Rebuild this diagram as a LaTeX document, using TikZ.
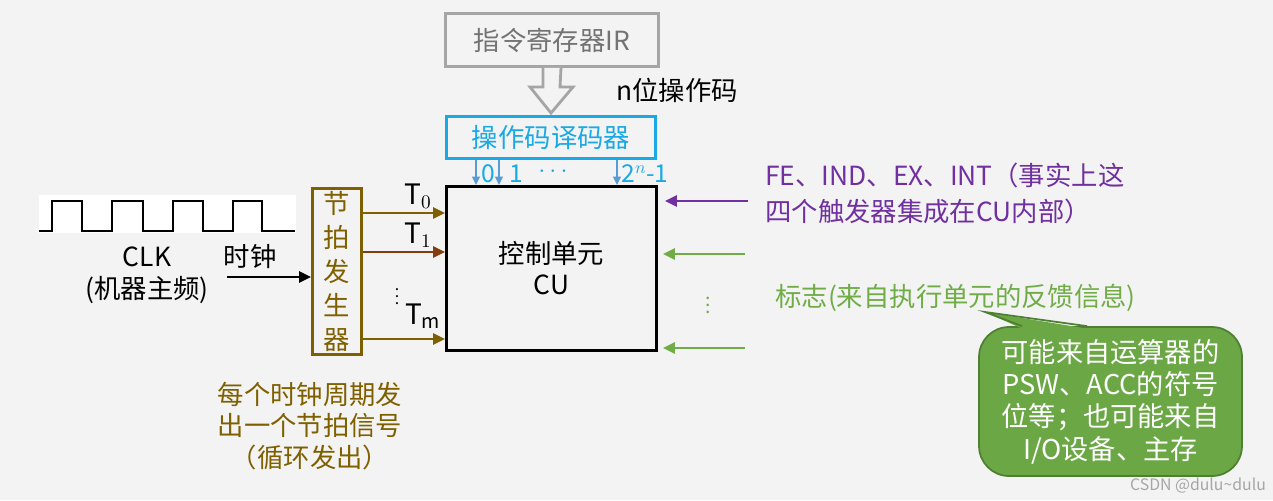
\documentclass[tikz,border=0pt]{standalone}
\usepackage{fontspec}
\setmainfont{Noto Sans CJK SC}
\usetikzlibrary{arrows.meta,positioning}

\definecolor{bggray}{HTML}{F3F3F3}
\definecolor{irgray}{HTML}{A5A5A5}
\definecolor{irtext}{HTML}{737373}
\definecolor{deccyan}{HTML}{19A9E6}
\definecolor{opblue}{HTML}{5B9BD5}
\definecolor{beatbrown}{HTML}{7F6000}
\definecolor{t1red}{HTML}{843C0C}
\definecolor{ffpurple}{HTML}{7030A0}
\definecolor{flaggreen}{HTML}{70AD47}
\definecolor{callgreen}{HTML}{6BA845}
\definecolor{calldark}{HTML}{4E7F33}

\begin{document}
\begin{tikzpicture}[
  x=0.02cm, y=-0.02cm,
  font=\fontsize{15}{18}\selectfont,
  box/.style={
    draw,
    line width=1.7pt,
    align=center,
    inner sep=0pt
  },
  lbl/.style={inner sep=0pt},
  arrow/.style={-{Triangle[length=2.4mm,width=2.2mm]}, line width=1.5pt},
  thin arrow/.style={-{Triangle[length=1.7mm,width=1.6mm]}, line width=0.8pt, draw=opblue}
]

\fill[bggray] (0,0) rectangle (1273,500);
\useasboundingbox (0,0) rectangle (1273,500);

% instruction register and decoder
\node[box, draw=irgray, text=irtext, minimum width=4.26cm, minimum height=1.06cm] (ir) at (552,40) {指令寄存器IR};
\node[box, draw=deccyan, text=deccyan, minimum width=4.18cm, minimum height=0.84cm] (dec) at (551,137.5) {操作码译码器};
\node[lbl] (nbit) at (677,90) {n位操作码};

\filldraw[draw=irgray, fill=bggray, line width=1.6pt, line join=miter]
  ([xshift=-0.18cm]ir.south) -- ++(0,19) -- ++(-13,0) -- ([yshift=0.04cm]dec.north)
  -- ++(22,-26) -- ++(-13,0) -- ([xshift=0.18cm]ir.south);

% control unit
\node[box, draw=black, minimum width=4.2cm, minimum height=3.28cm, font=\fontsize{15}{17.6}\selectfont] (cu) at (551.5,268.5) {控制单元\\CU};

\coordinate (d0) at (476,0);
\coordinate (d1) at (499,0);
\coordinate (dn) at (617,0);
\foreach \c in {d0,d1,dn}
  \draw[thin arrow] (dec.south -| \c) -- (cu.north -| \c);

\node[lbl, text=deccyan, font=\fontsize{14}{15}\selectfont] (n0) at (488,174) {0};
\node[lbl, text=deccyan, font=\fontsize{14}{15}\selectfont] (n1) at (516,174) {1};
\node[lbl, text=deccyan, font=\fontsize{14}{15}\selectfont] (ndots) at (553,172) {$\cdots$};
\node[lbl, text=deccyan, font=\fontsize{14}{15}\selectfont] (nlast) at (645,174) {2$^{n}$-1};

% clock
\fill[white] (39,195) rectangle (296,233);
\draw[line width=1.2pt] (39,231) -| (52,201) -| (82,231) -| (112,201) -| (143,231)
  -| (173,201) -| (203,231) -| (233,201) -| (262,231) -- (295,231);

\node[lbl, align=center, font=\fontsize{15}{18.2}\selectfont] (clk) at (147,275) {CLK\\(机器主频)};
\node[lbl] (clkname) at (250,257) {时钟};

% beat generator
\node[box, draw=beatbrown, text=beatbrown, minimum width=0.98cm, minimum height=3.32cm, font=\fontsize{15}{19.3}\selectfont] (beat) at (337,271.5) {节\\拍\\发\\生\\器};

\coordinate (clkin) at (227,277);
\draw[arrow] (clkin) -- (beat.west |- clkin);

\coordinate (r0) at (0,213);
\coordinate (r1) at (0,252);
\coordinate (rm) at (0,339);
\draw[arrow, beatbrown] (beat.east |- r0) -- (cu.west |- r0);
\draw[arrow, t1red] (beat.east |- r1) -- (cu.west |- r1);
\draw[arrow, beatbrown] (beat.east |- rm) -- (cu.west |- rm);

\node[lbl, font=\fontsize{16}{18}\selectfont] (t0) at (418,196) {$\mathrm{T}_0$};
\node[lbl, font=\fontsize{16}{18}\selectfont] (t1) at (418,235) {$\mathrm{T}_1$};
\node[lbl, font=\fontsize{9}{10}\selectfont] (tdots) at (397,291) {$\vdots$};
\node[lbl, font=\fontsize{16}{18}\selectfont] (tm) at (423,316) {$\mathrm{T}_\mathrm{m}$};

\node[lbl, align=center, text=beatbrown] (beatnote) at (310,426) {每个时钟周期发\\出一个节拍信号\\（循环发出）};

% inputs on the right
\coordinate (fe) at (748,201);
\coordinate (f1) at (745,254);
\coordinate (f2) at (745,348);
\draw[arrow, ffpurple, shorten >=0.14cm] (fe) -- (cu.east |- fe);
\draw[arrow, flaggreen, shorten >=0.1cm] (f1) -- (cu.east |- f1);
\draw[arrow, flaggreen, shorten >=0.1cm] (f2) -- (cu.east |- f2);
\node[lbl, text=flaggreen, font=\fontsize{11}{12}\selectfont] (fdots) at (708,300) {$\vdots$};

\node[lbl, anchor=west, align=left, text=ffpurple, font=\fontsize{15}{20.5}\selectfont] (ffnote) at (765,193) {FE、IND、EX、INT（事实上这\\四个触发器集成在CU内部）};
\node[lbl, anchor=west, text=flaggreen] (flag) at (775,298) {标志(来自执行单元的反馈信息)};

% callout
\node[draw=calldark, fill=callgreen, line width=1pt, rounded corners=0.6cm, minimum width=5.26cm, minimum height=2.98cm, text=white, align=center, font=\fontsize{15.5}{18.4}\selectfont] (call) at (1110.5,401.5) {可能来自运算器的\\PSW、ACC的符号\\位等；也可能来自\\I/O设备、主存};
\coordinate (tip) at (985,312);
\fill[callgreen] ([xshift=0.88cm, yshift=-0.05cm]call.north west) -- (tip) -- ([xshift=2.18cm, yshift=-0.05cm]call.north west) -- cycle;
\draw[calldark, line width=1pt] ([xshift=0.88cm]call.north west) -- (tip) -- ([xshift=2.18cm]call.north west);

\node[lbl, text=gray!70, font=\fontsize{9}{11}\selectfont] (mark) at (1198,486) {CSDN @dulu\textasciitilde dulu};

\end{tikzpicture}
\end{document}
